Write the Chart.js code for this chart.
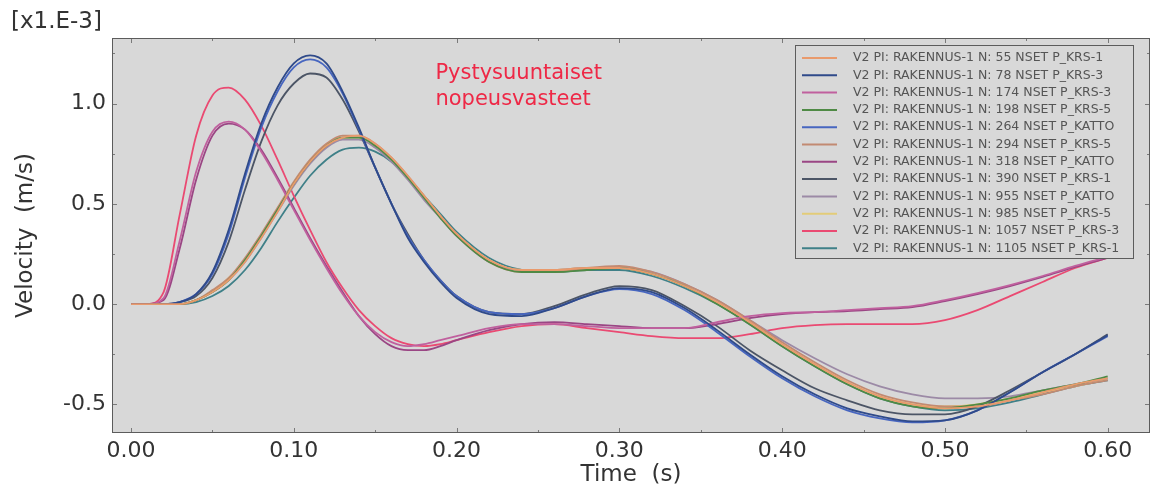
<!DOCTYPE html>
<html>
<head>
<meta charset="utf-8">
<script src="https://cdn.jsdelivr.net/npm/chart.js@4.4.1/dist/chart.umd.min.js"></script>
<style>
  html, body { margin: 0; padding: 0; background: #fff; }
  #wrap { width: 1157px; height: 493px; position: relative; }
</style>
</head>
<body>
<div id="wrap"><canvas id="velChart"></canvas></div>
<script>
// time (s), values in 1e-3 m/s
const timeS = [0, .01, .02, .03, .04, .05, .06, .07, .08, .09, .10, .11, .12, .13, .14, .15, .16, .17, .18, .19, .20,
  .22, .24, .26, .28, .30, .32, .34, .36, .38, .40, .42, .44, .46, .48, .50, .52, .54, .56, .58, .60];

const xTicks = [0, 0.1, 0.2, 0.3, 0.4, 0.5, 0.6];
const yTicks = [-0.5, 0, 0.5, 1.0];

const seriesNames = [
  "V2 PI: RAKENNUS-1 N: 55 NSET P_KRS-1",
  "V2 PI: RAKENNUS-1 N: 78 NSET P_KRS-3",
  "V2 PI: RAKENNUS-1 N: 174 NSET P_KRS-3",
  "V2 PI: RAKENNUS-1 N: 198 NSET P_KRS-5",
  "V2 PI: RAKENNUS-1 N: 264 NSET P_KATTO",
  "V2 PI: RAKENNUS-1 N: 294 NSET P_KRS-5",
  "V2 PI: RAKENNUS-1 N: 318 NSET P_KATTO",
  "V2 PI: RAKENNUS-1 N: 390 NSET P_KRS-1",
  "V2 PI: RAKENNUS-1 N: 955 NSET P_KATTO",
  "V2 PI: RAKENNUS-1 N: 985 NSET P_KRS-5",
  "V2 PI: RAKENNUS-1 N: 1057 NSET P_KRS-3",
  "V2 PI: RAKENNUS-1 N: 1105 NSET P_KRS-1"
];
const seriesColors = ['#e99a6c', '#2f4a8a', '#c0609e', '#4f8a45', '#4766c0', '#c28a72',
  '#9a4684', '#4c5566', '#9c8aa6', '#e3cc78', '#ea4a72', '#3f8088'];

const v55   = [0, 0, 0, 0, 0.02, 0.06, 0.12, 0.21, 0.33, 0.46, 0.6, 0.71, 0.79, 0.83, 0.84, 0.8, 0.73, 0.64, 0.54, 0.44, 0.35,
  0.22, 0.17, 0.17, 0.18, 0.18, 0.15, 0.09, 0.01, -0.09, -0.2, -0.3, -0.39, -0.46, -0.5, -0.52, -0.51, -0.48, -0.44, -0.4, -0.37];
const v78   = [0, 0, 0, 0.01, 0.05, 0.16, 0.37, 0.65, 0.9, 1.08, 1.2, 1.24, 1.2, 1.06, 0.88, 0.68, 0.5, 0.33, 0.21, 0.11, 0.03,
  -0.05, -0.06, -0.02, 0.04, 0.08, 0.06, -0.02, -0.13, -0.25, -0.36, -0.45, -0.52, -0.56, -0.585, -0.58, -0.53, -0.44, -0.34, -0.25, -0.155];
const v174  = [0, 0, 0.03, 0.32, 0.66, 0.86, 0.91, 0.87, 0.76, 0.62, 0.47, 0.32, 0.18, 0.05, -0.06, -0.14, -0.19, -0.21, -0.2, -0.18, -0.16,
  -0.12, -0.1, -0.1, -0.11, -0.12, -0.12, -0.12, -0.09, -0.06, -0.045, -0.04, -0.03, -0.02, -0.01, 0.02, 0.055, 0.095, 0.14, 0.19, 0.235];
const v198  = [0, 0, 0, 0, 0.02, 0.06, 0.12, 0.22, 0.34, 0.47, 0.6, 0.71, 0.79, 0.83, 0.83, 0.79, 0.72, 0.63, 0.53, 0.43, 0.34,
  0.21, 0.16, 0.16, 0.17, 0.18, 0.15, 0.09, 0.0, -0.1, -0.21, -0.31, -0.4, -0.47, -0.51, -0.52, -0.5, -0.47, -0.43, -0.4, -0.36];
const v264  = [0, 0, 0, 0.01, 0.05, 0.15, 0.35, 0.63, 0.88, 1.06, 1.18, 1.22, 1.18, 1.05, 0.87, 0.68, 0.5, 0.34, 0.22, 0.12, 0.04,
  -0.04, -0.05, -0.02, 0.04, 0.075, 0.05, -0.03, -0.14, -0.26, -0.37, -0.46, -0.53, -0.57, -0.59, -0.58, -0.53, -0.44, -0.34, -0.25, -0.16];
const v294  = [0, 0, 0, 0, 0.02, 0.07, 0.13, 0.23, 0.35, 0.48, 0.61, 0.72, 0.8, 0.84, 0.84, 0.8, 0.73, 0.64, 0.54, 0.44, 0.35,
  0.21, 0.16, 0.16, 0.18, 0.19, 0.16, 0.1, 0.02, -0.08, -0.19, -0.29, -0.38, -0.45, -0.49, -0.51, -0.51, -0.48, -0.45, -0.41, -0.38];
const v318  = [0, 0, 0.02, 0.28, 0.62, 0.84, 0.9, 0.87, 0.77, 0.63, 0.48, 0.33, 0.19, 0.06, -0.06, -0.15, -0.21, -0.23, -0.23, -0.21, -0.18,
  -0.13, -0.1, -0.09, -0.1, -0.11, -0.12, -0.12, -0.1, -0.07, -0.05, -0.04, -0.035, -0.025, -0.015, 0.015, 0.05, 0.09, 0.135, 0.185, 0.23];
const v390  = [0, 0, 0, 0.01, 0.04, 0.13, 0.31, 0.57, 0.81, 0.99, 1.1, 1.15, 1.13, 1.02, 0.86, 0.68, 0.5, 0.35, 0.22, 0.12, 0.04,
  -0.04, -0.05, -0.01, 0.05, 0.09, 0.07, -0.01, -0.11, -0.23, -0.33, -0.42, -0.48, -0.53, -0.55, -0.55, -0.51, -0.43, -0.34, -0.25, -0.15];
const v955  = [0, 0, 0, 0, 0.02, 0.06, 0.12, 0.21, 0.33, 0.46, 0.59, 0.7, 0.78, 0.82, 0.82, 0.78, 0.71, 0.62, 0.52, 0.43, 0.34,
  0.21, 0.17, 0.17, 0.18, 0.18, 0.16, 0.1, 0.02, -0.08, -0.18, -0.27, -0.35, -0.41, -0.45, -0.47, -0.47, -0.46, -0.43, -0.4, -0.37];
const v985  = [0, 0, 0, 0, 0.02, 0.06, 0.13, 0.22, 0.34, 0.47, 0.6, 0.71, 0.79, 0.83, 0.83, 0.79, 0.72, 0.63, 0.54, 0.44, 0.35,
  0.22, 0.17, 0.17, 0.18, 0.18, 0.15, 0.09, 0.01, -0.09, -0.2, -0.3, -0.39, -0.46, -0.5, -0.51, -0.5, -0.47, -0.44, -0.41, -0.37];
const v1057 = [0, 0, 0.06, 0.45, 0.84, 1.04, 1.08, 1.02, 0.89, 0.72, 0.54, 0.37, 0.21, 0.08, -0.03, -0.11, -0.17, -0.2, -0.21, -0.2, -0.18,
  -0.14, -0.11, -0.1, -0.12, -0.14, -0.16, -0.17, -0.17, -0.15, -0.12, -0.105, -0.1, -0.1, -0.1, -0.08, -0.03, 0.04, 0.11, 0.18, 0.23];
const v1105 = [0, 0, 0, 0, 0.01, 0.04, 0.09, 0.17, 0.28, 0.41, 0.53, 0.64, 0.72, 0.77, 0.78, 0.76, 0.71, 0.63, 0.54, 0.45, 0.36,
  0.23, 0.17, 0.16, 0.17, 0.17, 0.14, 0.08, 0.0, -0.1, -0.21, -0.31, -0.4, -0.47, -0.51, -0.53, -0.52, -0.49, -0.45, -0.41, -0.38];

const seriesValues = [v55, v78, v174, v198, v264, v294, v318, v390, v955, v985, v1057, v1105];

const noteLines = ["Pystysuuntaiset", "nopeusvasteet"];
const NOTE_X = 0.187, NOTE_Y = 1.15;   // data position of the red note

const FONT = '"DejaVu Sans", Verdana, sans-serif';

// grey plot area, frame, inward ticks, legend and texts
const plotDeco = {
  id: 'plotDeco',
  beforeDatasetsDraw(chart) {
    const { ctx, chartArea: a } = chart;
    ctx.save();
    ctx.fillStyle = '#d8d8d8';
    ctx.fillRect(a.left, a.top, a.right - a.left, a.bottom - a.top);
    ctx.restore();
  },
  afterDraw(chart) {
    const { ctx, chartArea: a, scales: { x, y } } = chart;
    ctx.save();

    // small ticks pointing into the plot
    ctx.strokeStyle = '#7a7a7a';
    ctx.lineWidth = 1;
    for (let i = 0; i <= 12; i++) {
      const px = Math.round(x.getPixelForValue(i * 0.05)) + 0.5;
      const len = i % 2 ? 3 : 5;
      ctx.beginPath();
      ctx.moveTo(px, a.bottom); ctx.lineTo(px, a.bottom - len);
      ctx.moveTo(px, a.top); ctx.lineTo(px, a.top + len);
      ctx.stroke();
    }
    for (let i = -2; i <= 5; i++) {
      const py = Math.round(y.getPixelForValue(i * 0.25)) + 0.5;
      const len = i % 2 ? 3 : 5;
      ctx.beginPath();
      ctx.moveTo(a.left, py); ctx.lineTo(a.left + len, py);
      ctx.moveTo(a.right, py); ctx.lineTo(a.right - len, py);
      ctx.stroke();
    }

    // frame
    ctx.strokeStyle = '#5c5c5c';
    ctx.strokeRect(a.left + 0.5, a.top + 0.5, a.right - a.left - 1, a.bottom - a.top - 1);

    // multiplier
    ctx.fillStyle = '#333';
    ctx.font = '23px ' + FONT;
    ctx.textBaseline = 'middle';
    ctx.textAlign = 'left';
    ctx.fillText('[x1.E-3]', 11, 22);

    // red note
    ctx.fillStyle = '#ee2846';
    ctx.font = '21px ' + FONT;
    const nx = x.getPixelForValue(NOTE_X), ny = y.getPixelForValue(NOTE_Y);
    noteLines.forEach((s, i) => ctx.fillText(s, nx, ny + i * 26));

    // legend box
    const lx = a.right - 355, ly = a.top + 7, lw = 338, lh = 213;
    ctx.fillStyle = '#d8d8d8';
    ctx.fillRect(lx, ly, lw, lh);
    ctx.strokeStyle = '#5c5c5c';
    ctx.strokeRect(lx + 0.5, ly + 0.5, lw, lh);
    ctx.font = '12.5px ' + FONT;
    chart.data.datasets.forEach((ds, i) => {
      const ry = ly + 13 + i * 17.3;
      ctx.strokeStyle = ds.borderColor;
      ctx.lineWidth = 2;
      ctx.beginPath();
      ctx.moveTo(lx + 7, ry); ctx.lineTo(lx + 42, ry);
      ctx.stroke();
      ctx.fillStyle = '#555';
      ctx.fillText(ds.label, lx + 58, ry);
    });

    ctx.restore();
  }
};

const datasets = seriesNames.map((name, i) => ({
  label: name,
  data: timeS.map((t, k) => ({ x: t, y: seriesValues[i][k] })),
  borderColor: seriesColors[i],
  borderWidth: 1.8,
  pointRadius: 0,
  cubicInterpolationMode: 'monotone',
  fill: false
}));

new Chart(document.getElementById('velChart'), {
  type: 'line',
  data: { datasets },
  options: {
    responsive: true,
    maintainAspectRatio: false,
    animation: false,
    layout: { padding: { top: 38, right: 7, left: 0, bottom: 0 } },
    plugins: { legend: { display: false }, tooltip: { enabled: false } },
    scales: {
      x: {
        type: 'linear',
        min: -0.0117, max: 0.626,
        afterFit: s => { s.height = 60; },
        afterBuildTicks: s => { s.ticks = xTicks.map(v => ({ value: v })); },
        grid: { display: false, drawTicks: false },
        border: { display: false },
        ticks: { padding: 5, color: '#333', font: { family: FONT, size: 22 }, callback: v => v.toFixed(2) },
        title: { display: true, text: 'Time  (s)', color: '#333', font: { family: FONT, size: 23 }, padding: { top: 0, bottom: 4 } }
      },
      y: {
        min: -0.643, max: 1.327,
        afterFit: s => { s.width = 112; },
        afterBuildTicks: s => { s.ticks = yTicks.map(v => ({ value: v })); },
        grid: { display: false, drawTicks: false },
        border: { display: false },
        ticks: { padding: 6, color: '#333', font: { family: FONT, size: 22 }, callback: v => v.toFixed(1) },
        title: { display: true, text: 'Velocity  (m/s)', color: '#333', font: { family: FONT, size: 23 }, padding: { top: 12, bottom: 0 } }
      }
    }
  },
  plugins: [plotDeco]
});
</script>
</body>
</html>
